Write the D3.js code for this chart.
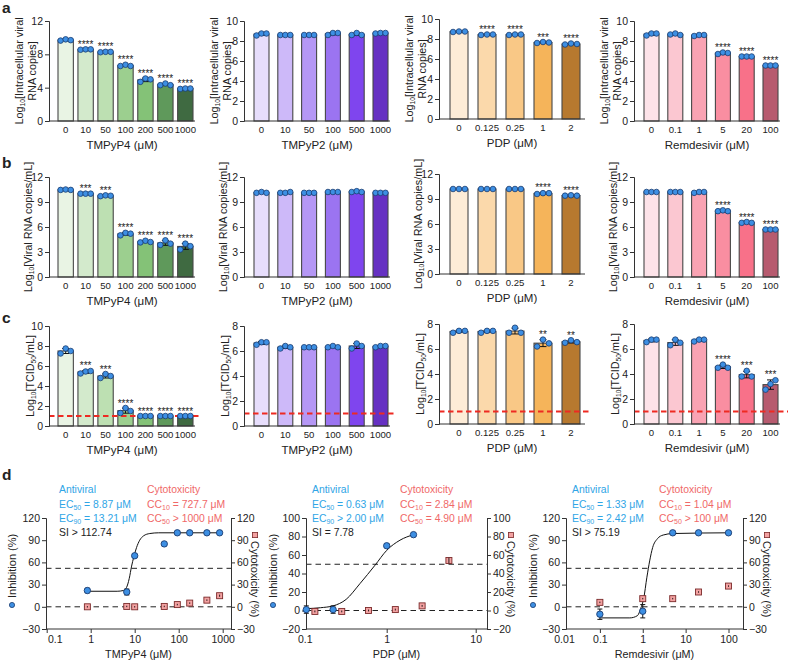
<!DOCTYPE html>
<html><head><meta charset="utf-8">
<script src="https://cdn.jsdelivr.net/npm/d3@7"></script>
<style>
body{margin:0;background:#fff}
svg{display:block}
text{font-family:Arial,"Liberation Sans",sans-serif;fill:#222}
</style></head>
<body><svg id="c" width="788" height="660"></svg>
<script>
// ---------------- DATA ----------------
const dosesTMPyP4 = ["0","10","50","100","200","500","1000"];
const dosesTMPyP2 = ["0","10","50","100","500","1000"];
const dosesPDP = ["0","0.125","0.25","1","2"];
const dosesRem = ["0","0.1","1","5","20","100"];

const colorsTMPyP4 = ["#e9f4e4","#d3eacc","#bde0b2","#9ccf8f","#84c277","#5f995b","#3f6a41"];
const colorsTMPyP2 = ["#e7defc","#cdb9f9","#b597f5","#9b74f1","#7f45ee","#6631c2"];
const colorsPDP = ["#fdecd7","#fbd9ab","#f9c886","#f5b45a","#b7792f"];
const colorsRem = ["#fde3e9","#fbc7d1","#f9a3b3","#f98ea1","#f87189","#b75b6f"];

// row a: Log10[Intracellular viral RNA copies]
const aTMPyP4 = [[9.65,9.8,9.7],[8.55,8.6,8.6],[8.25,8.3,8.3],[6.6,6.75,6.6],[4.7,5.1,5.0],[4.3,4.5,4.3],[3.85,3.9,3.9]];
const aTMPyP2 = [[8.55,8.75,8.75],[8.6,8.6,8.6],[8.6,8.6,8.6],[8.6,8.8,8.8],[8.6,8.8,8.6],[8.75,8.8,8.8]];
const aPDP = [[8.7,8.75,8.75],[8.4,8.45,8.45],[8.4,8.45,8.45],[7.6,7.7,7.65],[7.45,7.55,7.5]];
const aRem = [[8.55,8.75,8.75],[8.65,8.75,8.6],[8.5,8.6,8.6],[6.7,6.85,6.8],[6.45,6.45,6.45],[5.55,5.55,5.55]];
const aStarsTMPyP4 = ["","****","****","****","****","****","****"];
const aStarsTMPyP2 = ["","","","","",""];
const aStarsPDP = ["","****","****","***","****"];
const aStarsRem = ["","","","****","****","****"];

// row b: Log10[Viral RNA copies/mL]
const bTMPyP4 = [[10.45,10.5,10.45],[10.0,10.0,10.0],[9.7,9.8,9.75],[5.0,5.3,5.2],[4.15,4.35,4.2],[3.85,4.4,4.0],[3.3,4.0,3.7]];
const bTMPyP2 = [[10.1,10.2,10.1],[10.1,10.1,10.2],[10.1,10.1,10.1],[10.2,10.2,10.2],[10.2,10.3,10.2],[10.1,10.1,10.1]];
const bPDP = [[10.2,10.2,10.2],[10.2,10.2,10.2],[10.2,10.2,10.2],[9.6,9.7,9.7],[9.4,9.45,9.4]];
const bRem = [[10.2,10.2,10.2],[10.2,10.2,10.2],[10.1,10.2,10.2],[7.9,8.0,7.9],[6.5,6.6,6.5],[5.7,5.7,5.7]];
const bStarsTMPyP4 = ["","***","***","****","****","****","****"];
const bStarsTMPyP2 = ["","","","","",""];
const bStarsPDP = ["","","","****","****"];
const bStarsRem = ["","","","****","****","****"];

// row c: Log10[TCID50/mL]
const cTMPyP4 = [[7.25,7.75,7.5],[5.25,5.45,5.5],[4.8,5.2,5.0],[1.3,1.8,1.5],[1.0,1.0,1.0],[1.0,1.0,1.0],[1.0,1.0,1.0]];
const cTMPyP2 = [[6.5,6.7,6.7],[6.2,6.4,6.3],[6.3,6.3,6.3],[6.3,6.4,6.3],[6.2,6.6,6.4],[6.3,6.4,6.4]];
const cPDP = [[7.3,7.45,7.45],[7.3,7.45,7.45],[7.3,7.7,7.3],[6.2,6.75,6.45],[6.5,6.7,6.55]];
const cRem = [[6.55,6.75,6.75],[6.3,6.75,6.5],[6.6,6.75,6.75],[4.5,4.75,4.5],[3.8,4.25,3.8],[2.75,3.2,3.5]];
const cStarsTMPyP4 = ["","***","***","****","****","****","****"];
const cStarsTMPyP2 = ["","","","","",""];
const cStarsPDP = ["","","","**","**"];
const cStarsRem = ["","","","****","***","***"];
const detectionLimit = 1;

// row d: dose response
const dTMPyP4Conc = [0.84,6.6,10,47,93,178,437,851];
const dTMPyP4Inhib = [22,20,69,85,100,100,100,100];
const dTMPyP4InhibErr = [3,4,2,2,1,1,1,1];
const dTMPyP4Cyto = [0,0.5,0,0.5,3,5,9,15];
const dTMPyP4CytoErr = [1,1,1,1,1,1,1,1.5];
const dTMPyP4Curve = [[0.84,21],[4,21],[5.5,22],[6.5,26],[7.5,38],[8.5,55],[9.5,67],[11,80],[13,90],[16,96],[22,99],[35,100],[851,100]];

const dPDPConc = [0.125,0.25,1,2];
const dPDPInhib = [1,1,70,82];
const dPDPInhibErr = [4,4,2,1];
const dPDPCytoConc = [0.156,0.3125,0.625,1.25,2.5,5];
const dPDPCyto = [-1,-1,0,1,5,54];
const dPDPCytoErr = [1,1,1,1,1,3];
const dPDPCurve = [[0.125,2],[0.18,3],[0.25,5],[0.35,12],[0.5,29],[0.74,49],[1,65],[1.41,76],[2,82]];

const dRemConc = [0.1,1,5,20,100];
const dRemInhib = [-10,-6,100,100,100];
const dRemInhibErr = [7,9,1,1,1];
const dRemCytoConc = [0.1,1,5,20,100];
const dRemCyto = [6,11,11,20,28];
const dRemCytoErr = [1,1,1,1,1];
const dRemCurve = [[0.1,-15],[0.5,-15],[0.75,-12],[0.9,-2],[1.05,11],[1.25,40],[1.45,62],[1.7,80],[2.2,92],[3,97],[5,99],[100,100]];

// ---------------- DRAW ----------------
const svg = d3.select("#c");
const AX = [49,244,439,634];
const F = 'Arial,"Liberation Sans",sans-serif';

function rich(t, segs, fs){
  let cur = 0;
  segs.forEach(s=>{
    const isSub = typeof s !== "string";
    const str = isSub ? s.s : s;
    const tgt = isSub ? 2.2 : 0;
    t.append("tspan").attr("dy", tgt-cur).attr("font-size", isSub ? fs*0.62 : fs).text(str);
    cur = tgt;
  });
}

function barPanel(p){
  const g = svg.append("g");
  const y = d3.scaleLinear().domain([0,p.yMax]).range([p.y0,p.y0-100]);
  const x = d3.scaleBand().domain(p.doses).range([p.ax+p.b0,p.ax+p.b1]).paddingInner(p.pi).paddingOuter(0);
  const bw = x.bandwidth();
  const stats = p.vals.map(v=>({m:d3.mean(v),sd:d3.deviation(v)||0}));
  g.selectAll("rect.bar").data(p.doses).join("rect")
    .attr("x",d=>x(d)).attr("width",bw)
    .attr("y",(d,i)=>y(stats[i].m)).attr("height",(d,i)=>y(0)-y(stats[i].m))
    .attr("fill",(d,i)=>p.colors[i]).attr("stroke","#474747").attr("stroke-width",1.1);
  if(p.limit!=null){
    g.append("line").attr("x1",p.ax).attr("x2",p.ax+p.limW).attr("y1",y(p.limit)).attr("y2",y(p.limit))
      .attr("stroke","#ee2a22").attr("stroke-width",1.9).attr("stroke-dasharray","5.5,3.5");
  }
  p.doses.forEach((d,i)=>{
    const cx = x(d)+bw/2, s=stats[i];
    if(s.sd>0.02){
      g.append("line").attr("x1",cx).attr("x2",cx).attr("y1",y(s.m-s.sd)).attr("y2",y(s.m+s.sd)).attr("stroke","#111").attr("stroke-width",1);
      [s.m-s.sd,s.m+s.sd].forEach(v=>g.append("line").attr("x1",cx-3.5).attr("x2",cx+3.5).attr("y1",y(v)).attr("y2",y(v)).attr("stroke","#111").attr("stroke-width",1));
    }
    p.vals[i].forEach((v,j)=>{
      g.append("circle").attr("cx",cx+(j-1)*bw*0.33).attr("cy",y(v)).attr("r",2.8)
        .attr("fill","#3d8fe3").attr("stroke","#1b3c70").attr("stroke-width",0.8);
    });
    if(p.stars[i]){
      const top = Math.min(y(d3.max(p.vals[i])), y(s.m+s.sd));
      g.append("text").attr("x",cx).attr("y",top-1.5).attr("text-anchor","middle").attr("font-size",10).attr("fill","#333").text(p.stars[i]);
    }
  });
  const ya = g.append("g").attr("transform",`translate(${p.ax},0)`)
    .call(d3.axisLeft(y).tickValues(p.ticks).tickSize(4).tickPadding(2).tickFormat(d3.format("d")));
  ya.select(".domain").attr("stroke","#333");
  ya.selectAll(".tick line").attr("stroke","#333");
  ya.selectAll(".tick text").attr("font-size",10.5).attr("fill","#222").attr("font-family",F);
  g.append("line").attr("x1",p.ax).attr("x2",p.ax+146).attr("y1",y(0)).attr("y2",y(0)).attr("stroke","#333").attr("stroke-width",1);
  const xa = g.append("g").attr("transform",`translate(0,${y(0)})`).call(d3.axisBottom(x).tickSize(0).tickPadding(5));
  xa.select(".domain").remove();
  xa.selectAll(".tick text").attr("font-size",9.6).attr("fill","#222").attr("font-family",F);
  g.append("text").attr("x",p.ax+73).attr("y",y(0)+28).attr("text-anchor","middle").attr("font-size",11.5).text(p.xTitle);
  p.ylab.forEach((segs,k)=>{
    const t = g.append("text").attr("transform",`translate(${p.ax-p.ylx[k]},${p.y0-50}) rotate(-90)`).attr("text-anchor","middle");
    rich(t,segs,10.8);
  });
}

const colDefs = [
  {doses:dosesTMPyP4,colors:colorsTMPyP4,title:"TMPyP4 (\u03bcM)",b0:9,b1:144,pi:0.23},
  {doses:dosesTMPyP2,colors:colorsTMPyP2,title:"TMPyP2 (\u03bcM)",b0:10,b1:144,pi:0.37},
  {doses:dosesPDP,colors:colorsPDP,title:"PDP (\u03bcM)",b0:11,b1:141,pi:0.357},
  {doses:dosesRem,colors:colorsRem,title:"Remdesivir (\u03bcM)",b0:10,b1:144,pi:0.37}
];
const rows = [
  {vals:[aTMPyP4,aTMPyP2,aPDP,aRem],stars:[aStarsTMPyP4,aStarsTMPyP2,aStarsPDP,aStarsRem],y0:[121,121,119,121],
   yMax:[12,10,10,10],ticks:[[0,4,8,12],[0,2,4,6,8,10],[0,2,4,6,8,10],[0,2,4,6,8,10]],
   ylab:[["Log",{s:"10"},"[Intracellular viral"],["RNA copies]"]],ylx:[26,13]},
  {vals:[bTMPyP4,bTMPyP2,bPDP,bRem],stars:[bStarsTMPyP4,bStarsTMPyP2,bStarsPDP,bStarsRem],y0:[277,277,274,277],
   yMax:[12,12,12,12],ticks:[[0,3,6,9,12],[0,3,6,9,12],[0,3,6,9,12],[0,3,6,9,12]],
   ylab:[["Log",{s:"10"},"[Viral RNA copies/mL]"]],ylx:[17]},
  {vals:[cTMPyP4,cTMPyP2,cPDP,cRem],stars:[cStarsTMPyP4,cStarsTMPyP2,cStarsPDP,cStarsRem],y0:[426,426,424,424],
   yMax:[10,8,8,8],ticks:[[0,2,4,6,8,10],[0,2,4,6,8],[0,2,4,6,8],[0,2,4,6,8]],
   ylab:[["Log",{s:"10"},"[TCID",{s:"50"},"/mL]"]],ylx:[15],limit:detectionLimit}
];
rows.forEach(r=>{
  colDefs.forEach((c,k)=>{
    barPanel({ax:AX[k],y0:r.y0[k],yMax:r.yMax[k],ticks:r.ticks[k],doses:c.doses,colors:c.colors,xTitle:c.title,
      b0:c.b0,b1:c.b1,pi:c.pi,vals:r.vals[k],stars:r.stars[k],ylab:r.ylab,ylx:r.ylx,limit:r.limit,limW:k==3?154:152});
  });
});

[["a",13],["b",168],["c",323],["d",480]].forEach(([l,yy])=>{
  svg.append("text").attr("x",2).attr("y",yy).attr("font-size",15.5).attr("font-weight","bold").attr("fill","#000").text(l);
});

// ---------------- DOSE-RESPONSE ----------------
function dosePanel(p){
  const g = svg.append("g");
  const x = d3.scaleLog().domain(p.xDom).range(p.xRng);
  const y = d3.scaleLinear().domain(p.yDom).range([629,518]);
  p.dashes.forEach(v=>g.append("line").attr("x1",p.L).attr("x2",p.R).attr("y1",y(v)).attr("y2",y(v))
    .attr("stroke","#222").attr("stroke-width",1).attr("stroke-dasharray","5.5,4"));
  const la = g.append("g").attr("transform",`translate(${p.L},0)`).call(d3.axisLeft(y).tickValues(p.yTicks).tickSize(4).tickPadding(2));
  const ra = g.append("g").attr("transform",`translate(${p.R},0)`).call(d3.axisRight(y).tickValues(p.yTicks).tickSize(4).tickPadding(2));
  [la,ra].forEach(a=>{a.select(".domain").attr("stroke","#333");a.selectAll(".tick line").attr("stroke","#333");
    a.selectAll(".tick text").attr("font-size",10.5).attr("fill","#222").attr("font-family",F);});
  g.append("line").attr("x1",p.L).attr("x2",p.R).attr("y1",629).attr("y2",629).attr("stroke","#333");
  const ba = g.append("g").attr("transform","translate(0,629)").call(d3.axisBottom(x).tickValues(p.xTicks).tickSize(4).tickPadding(3).tickFormat(d=>p.xFmt(d)));
  ba.select(".domain").remove();
  ba.selectAll(".tick line").attr("stroke","#333").attr("display",d=>(x(d)<p.L-0.5||x(d)>p.R+0.5)?"none":null);
  ba.selectAll(".tick text").attr("font-size",10.5).attr("fill","#222").attr("font-family",F)
    .attr("x",(d,i)=> i===0 ? p.firstShift : 0);
  g.append("text").attr("x",(p.L+p.R)/2).attr("y",658).attr("text-anchor","middle").attr("font-size",10.8).text(p.xTitle);
  g.append("path").datum(p.curve).attr("fill","none").attr("stroke","#111").attr("stroke-width",1)
    .attr("d",d3.line().x(d=>x(d[0])).y(d=>y(d[1])).curve(d3.curveMonotoneX));
  p.cytoConc.forEach((c,i)=>{
    const cx=x(c), cy=y(p.cyto[i]);
    g.append("rect").attr("x",cx-3).attr("y",cy-3).attr("width",6).attr("height",6).attr("fill","#f3a2a2").attr("stroke","#7a2a2a").attr("stroke-width",0.9);
    g.append("line").attr("x1",cx).attr("x2",cx).attr("y1",y(p.cyto[i]-p.cytoErr[i])).attr("y2",y(p.cyto[i]+p.cytoErr[i])).attr("stroke","#111").attr("stroke-width",0.9);
  });
  p.conc.forEach((c,i)=>{
    const cx=x(c), cy=y(p.inhib[i]);
    g.append("line").attr("x1",cx).attr("x2",cx).attr("y1",y(p.inhib[i]-p.inhibErr[i])).attr("y2",y(p.inhib[i]+p.inhibErr[i])).attr("stroke","#111").attr("stroke-width",1);
    [p.inhib[i]-p.inhibErr[i],p.inhib[i]+p.inhibErr[i]].forEach(v=>g.append("line").attr("x1",cx-2.5).attr("x2",cx+2.5).attr("y1",y(v)).attr("y2",y(v)).attr("stroke","#111"));
    g.append("circle").attr("cx",cx).attr("cy",cy).attr("r",3.2).attr("fill","#3d8fe3").attr("stroke","#1b3c70").attr("stroke-width",0.9);
  });
  const lx = p.L - p.inhOff;
  g.append("circle").attr("cx",lx).attr("cy",605).attr("r",2.6).attr("fill","#3d8fe3").attr("stroke","#1b3c70").attr("stroke-width",0.8);
  g.append("text").attr("transform",`translate(${lx+4},598) rotate(-90)`).attr("font-size",11).text("Inhibition (%)");
  const rx = p.R + p.cytOff;
  g.append("rect").attr("x",rx-2.6).attr("y",532.4).attr("width",5.2).attr("height",5.2).attr("fill","#f3a2a2").attr("stroke","#7a2a2a").attr("stroke-width",0.8);
  g.append("text").attr("transform",`translate(${rx-4},541) rotate(90)`).attr("font-size",11).text("Cytotoxicity (%)");
  const blue="#2fa5e6", red="#f06868";
  const A = (xx,yy,col,segs)=>{const t=g.append("text").attr("x",xx).attr("y",yy).attr("fill",col).attr("font-size",10.4);
    let cur=0; segs.forEach(s=>{const sub=typeof s!=="string";const tg=sub?2:0;t.append("tspan").attr("dy",tg-cur).attr("fill",col).attr("font-size",sub?7:10.4).text(sub?s.s:s);cur=tg;});};
  A(p.ax1,493,blue,["Antiviral"]);
  A(p.ax1,508,blue,["EC",{s:"50"},p.ec50]);
  A(p.ax1,522,blue,["EC",{s:"90"},p.ec90]);
  A(p.ax1,536,"#222",[p.si]);
  A(p.ax2,493,red,["Cytotoxicity"]);
  A(p.ax2,508,red,["CC",{s:"10"},p.cc10]);
  A(p.ax2,522,red,["CC",{s:"50"},p.cc50]);
}

const fmtLog = d=> d>=1 ? d3.format("d")(d) : String(+d.toPrecision(1));
dosePanel({L:46,R:231,xDom:[0.1,1000],xRng:[46.7,222.7],xTicks:[0.1,1,10,100,1000],xFmt:fmtLog,firstShift:8,yDom:[-30,120],yTicks:[-30,0,30,60,90,120],
  dashes:[0,52],xTitle:"TMPyP4 (\u03bcM)",curve:dTMPyP4Curve,conc:dTMPyP4Conc,inhib:dTMPyP4Inhib,inhibErr:dTMPyP4InhibErr,
  cytoConc:dTMPyP4Conc,cyto:dTMPyP4Cyto,cytoErr:dTMPyP4CytoErr,inhOff:34,cytOff:24,ax1:59,ax2:147,
  ec50:" = 8.87 \u03bcM",ec90:" = 13.21 \u03bcM",si:"SI  > 112.74",cc10:" = 727.7 \u03bcM",cc50:" > 1000 \u03bcM"});
dosePanel({L:306,R:487,xDom:[0.1,10],xRng:[297.7,475.7],xTicks:[0.1,1,10],xFmt:fmtLog,firstShift:7,yDom:[-20,100],yTicks:[-20,0,20,40,60,80,100],
  dashes:[0,50],xTitle:"PDP (\u03bcM)",curve:dPDPCurve,conc:dPDPConc,inhib:dPDPInhib,inhibErr:dPDPInhibErr,
  cytoConc:dPDPCytoConc,cyto:dPDPCyto,cytoErr:dPDPCytoErr,inhOff:33,cytOff:24,ax1:312,ax2:400,
  ec50:" = 0.63 \u03bcM",ec90:" > 2.00 \u03bcM",si:"SI  = 7.78",cc10:" = 2.84 \u03bcM",cc50:" = 4.90 \u03bcM"});
dosePanel({L:566,R:743,xDom:[0.01,100],xRng:[557,728.5],xTicks:[0.01,0.1,1,10,100],xFmt:fmtLog,firstShift:7,yDom:[-30,120],yTicks:[-30,0,30,60,90,120],
  dashes:[0,52],xTitle:"Remdesivir (\u03bcM)",curve:dRemCurve,conc:dRemConc,inhib:dRemInhib,inhibErr:dRemInhibErr,
  cytoConc:dRemCytoConc,cyto:dRemCyto,cytoErr:dRemCytoErr,inhOff:33,cytOff:24,ax1:572,ax2:659,
  ec50:" = 1.33 \u03bcM",ec90:" = 2.42 \u03bcM",si:"SI  > 75.19",cc10:" = 1.04 \u03bcM",cc50:" > 100 \u03bcM"});
</script>
</body></html>
